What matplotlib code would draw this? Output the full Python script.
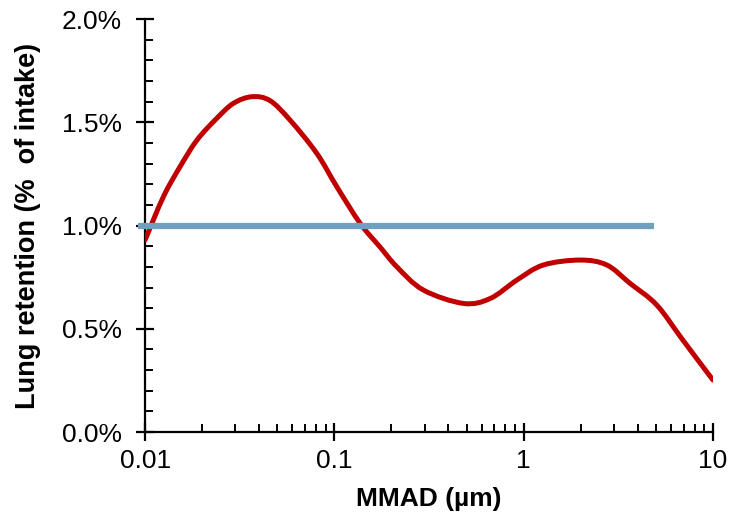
import numpy as np
import matplotlib.pyplot as plt
from matplotlib.path import Path
from matplotlib.patches import PathPatch
from matplotlib.ticker import FixedLocator, LogLocator, MultipleLocator, PercentFormatter, FuncFormatter

plt.rcParams['font.family'] = ['Liberation Sans', 'DejaVu Sans']

# curve (MMAD in um, retention in % of intake)
mmad = [0.01, 0.0125, 0.0153, 0.0188, 0.0239, 0.0293, 0.0367, 0.0457, 0.0583,
        0.0807, 0.103, 0.137, 0.174, 0.214, 0.295, 0.481, 0.666, 0.92, 1.27,
        1.99, 2.75, 3.65, 5.05, 6.94, 10.0]
retention = [0.93, 1.14, 1.285, 1.414, 1.519, 1.592, 1.624, 1.605, 1.511,
             1.35, 1.188, 1.01, 0.897, 0.80, 0.688, 0.623, 0.647, 0.736, 0.809,
             0.833, 0.809, 0.72, 0.615, 0.445, 0.252]

# reference line at 1 %
ref_x = [0.0092, 4.9]
ref_y = [1.0, 1.0]

red = '#C00000'
blue = '#70A0C0'


def smooth_path(xs, ys):
    # excel-like smoothed line: catmull-rom segments as cubic beziers (in log-x space)
    lx = np.log10(xs)
    y = np.asarray(ys, dtype=float)
    n = len(lx)
    verts = [(xs[0], y[0])]
    codes = [Path.MOVETO]
    for i in range(n - 1):
        i0 = max(i - 1, 0)
        i3 = min(i + 2, n - 1)
        c1x = lx[i] + (lx[i + 1] - lx[i0]) / 6
        c1y = y[i] + (y[i + 1] - y[i0]) / 6
        c2x = lx[i + 1] - (lx[i3] - lx[i]) / 6
        c2y = y[i + 1] - (y[i3] - y[i]) / 6
        verts += [(10 ** c1x, c1y), (10 ** c2x, c2y), (xs[i + 1], y[i + 1])]
        codes += [Path.CURVE4] * 3
    return Path(verts, codes)


fig = plt.figure(figsize=(7.29, 5.15), dpi=100)
ax = fig.add_axes([0.199, 0.161, 0.779, 0.802])

ax.set_xscale('log')
ax.set_xlim(0.01, 10)
ax.set_ylim(0, 2.0)

ax.add_patch(PathPatch(smooth_path(mmad, retention), fill=False, edgecolor=red,
                       lw=3.6, capstyle='round', joinstyle='round', zorder=3))
ax.plot(ref_x, ref_y, color=blue, lw=4.5, solid_capstyle='butt', clip_on=False, zorder=4)

ax.xaxis.set_major_locator(FixedLocator([0.01, 0.1, 1, 10]))
ax.xaxis.set_minor_locator(LogLocator(base=10, subs=range(2, 10)))
ax.xaxis.set_major_formatter(FuncFormatter(lambda v, p: '%g' % v))
ax.yaxis.set_major_locator(MultipleLocator(0.5))
ax.yaxis.set_minor_locator(MultipleLocator(0.1))
ax.yaxis.set_major_formatter(PercentFormatter(xmax=100, decimals=1))

for s in ['top', 'right']:
    ax.spines[s].set_visible(False)
for s in ['left', 'bottom']:
    ax.spines[s].set_linewidth(1.6)

ax.tick_params(which='major', direction='inout', length=13, width=1.6, labelsize=19)
ax.tick_params(axis='x', which='major', pad=6)
ax.tick_params(axis='y', which='major', pad=10)
ax.tick_params(which='minor', direction='in', length=6, width=1.4)

ax.set_xlabel('MMAD (µm)', fontsize=19, fontweight='bold', labelpad=10)
ax.set_ylabel('Lung retention (%  of intake)', fontsize=19.5, fontweight='bold', labelpad=15)

fig.savefig('out.png', dpi=100)
